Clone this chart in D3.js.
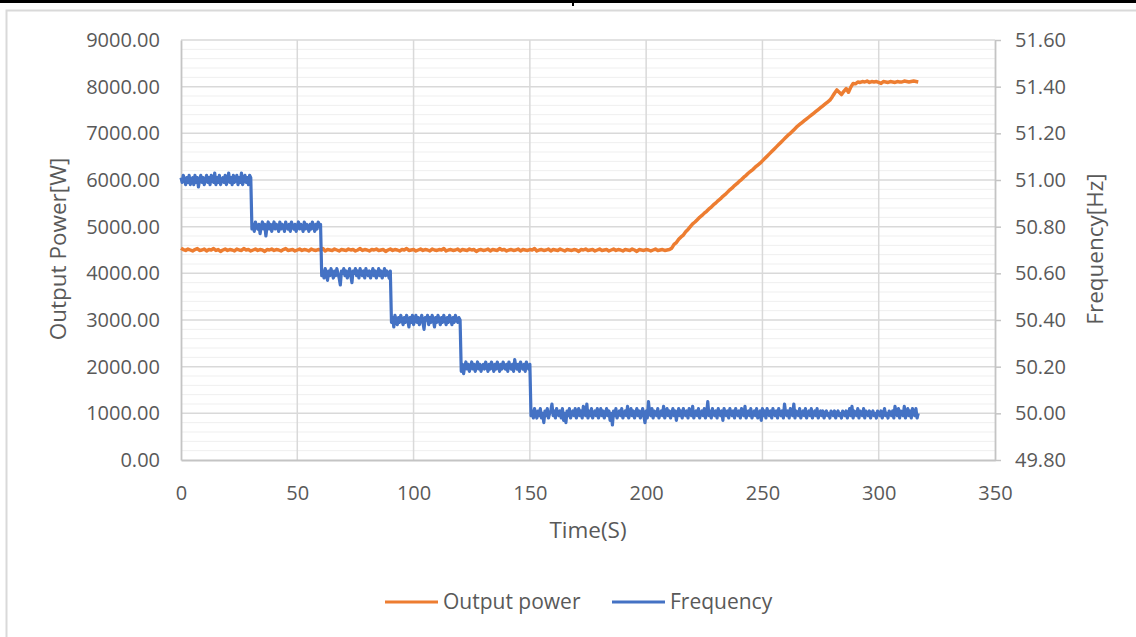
<!DOCTYPE html>
<html>
<head>
<meta charset="utf-8">
<script src="https://cdn.jsdelivr.net/npm/d3@7"></script>
<style>
  body { margin: 0; background: #fff; }
  text { font-family: "Open Sans", sans-serif; fill: #595959; }
</style>
</head>
<body>
<div id="viz"></div>
<script>
const colorPower = '#ED7D31';
const colorFreq = '#4472C4';

// sample spacing in seconds, both series start at t = 0
const powerTimeStep = 1;
const freqTimeStep = 0.5;

// Output power [W], one sample per second
const powerValues = [
  4540, 4510, 4490, 4520, 4500, 4480, 4510, 4530, 4490, 4500,
  4520, 4480, 4510, 4500, 4530, 4490, 4510, 4470, 4500, 4520,
  4490, 4510, 4500, 4480, 4520, 4500, 4490, 4530, 4500, 4510,
  4480, 4500, 4520, 4490, 4510, 4500, 4470, 4510, 4500, 4520,
  4490, 4510, 4500, 4480, 4510, 4530, 4490, 4500, 4510, 4480,
  4500, 4520, 4490, 4510, 4500, 4480, 4520, 4500, 4490, 4510,
  4500, 4530, 4480, 4510, 4500, 4490, 4520, 4500, 4480, 4510,
  4500, 4490, 4520, 4500, 4510, 4480, 4500, 4530, 4490, 4510,
  4500, 4480, 4510, 4500, 4520, 4490, 4500, 4510, 4470, 4500,
  4520, 4490, 4510, 4500, 4480, 4510, 4500, 4530, 4490, 4500,
  4510, 4480, 4500, 4520, 4490, 4510, 4500, 4480, 4520, 4500,
  4490, 4510, 4500, 4530, 4480, 4500, 4510, 4490, 4500, 4520,
  4480, 4510, 4500, 4490, 4520, 4500, 4510, 4470, 4500, 4510,
  4490, 4500, 4520, 4480, 4510, 4500, 4490, 4530, 4500, 4510,
  4480, 4500, 4510, 4490, 4500, 4520, 4480, 4510, 4500, 4490,
  4510, 4500, 4530, 4480, 4500, 4510, 4490, 4500, 4520, 4480,
  4510, 4500, 4490, 4520, 4500, 4480, 4510, 4500, 4490, 4510,
  4500, 4470, 4510, 4500, 4520, 4490, 4500, 4510, 4480, 4500,
  4520, 4490, 4500, 4510, 4480, 4500, 4520, 4490, 4510, 4500,
  4480, 4510, 4500, 4490, 4520, 4500, 4470, 4510, 4500, 4490,
  4510, 4500, 4480, 4500, 4520, 4490, 4500, 4510, 4490, 4500,
  4510, 4540, 4620, 4660, 4730, 4780, 4820, 4890, 4940, 5000,
  5060, 5100, 5150, 5200, 5240, 5290, 5330, 5380, 5420, 5470,
  5510, 5560, 5600, 5650, 5690, 5740, 5790, 5830, 5880, 5920,
  5970, 6010, 6060, 6100, 6150, 6190, 6230, 6280, 6320, 6360,
  6410, 6460, 6510, 6560, 6610, 6660, 6710, 6760, 6810, 6860,
  6910, 6960, 7000, 7050, 7100, 7150, 7190, 7230, 7270, 7310,
  7350, 7390, 7430, 7470, 7510, 7550, 7590, 7630, 7670, 7710,
  7780, 7860, 7930, 7880, 7830, 7900, 7960, 7880, 7990, 8070,
  8060, 8100, 8090, 8110, 8100, 8120, 8090, 8110, 8100, 8110,
  8090, 8070, 8110, 8100, 8090, 8110, 8100, 8090, 8110, 8100,
  8100, 8120, 8110, 8100, 8110, 8120, 8110, 8100
]

// Frequency [Hz], two samples per second
const frequencyValues = [
  // 0 - 30 s
  51.01, 50.99, 51.02, 51.00, 50.98, 51.01, 50.99, 51.02, 50.98, 51.00,
  51.01, 50.98, 51.02, 50.99, 51.01, 50.97, 51.00, 51.02, 50.99, 51.01,
  50.98, 51.00, 51.02, 50.99, 51.01, 50.98, 51.02, 51.00, 50.99, 51.03,
  50.98, 51.01, 50.99, 51.02, 50.98, 51.00, 51.01, 50.99, 51.02, 50.98,
  51.00, 51.03, 50.99, 51.01, 50.98, 51.02, 50.99, 51.00, 51.02, 50.98,
  51.01, 50.99, 51.03, 50.98, 51.00, 51.02, 50.99, 51.01, 50.98, 51.02,
  51.01,
  // 30.5 - 60 s
  50.79, 50.81, 50.78, 50.82, 50.80, 50.79, 50.81, 50.77, 50.80, 50.82,
  50.79, 50.81, 50.76, 50.80, 50.82, 50.79, 50.81, 50.78, 50.80, 50.82,
  50.79, 50.81, 50.80, 50.78, 50.82, 50.79, 50.81, 50.80, 50.78, 50.82,
  50.80, 50.79, 50.81, 50.78, 50.82, 50.80, 50.79, 50.81, 50.78, 50.80,
  50.82, 50.79, 50.81, 50.80, 50.78, 50.82, 50.79, 50.81, 50.80, 50.78,
  50.81, 50.79, 50.82, 50.80, 50.78, 50.81, 50.79, 50.82, 50.80, 50.81,
  // 60.5 - 90 s
  50.59, 50.61, 50.58, 50.62, 50.60, 50.57, 50.61, 50.59, 50.62, 50.60,
  50.58, 50.61, 50.59, 50.62, 50.60, 50.58, 50.55, 50.61, 50.60, 50.62,
  50.59, 50.61, 50.58, 50.60, 50.62, 50.59, 50.56, 50.61, 50.60, 50.62,
  50.59, 50.61, 50.58, 50.62, 50.60, 50.59, 50.61, 50.58, 50.62, 50.60,
  50.59, 50.61, 50.58, 50.60, 50.62, 50.59, 50.61, 50.58, 50.60, 50.62,
  50.59, 50.61, 50.58, 50.60, 50.62, 50.59, 50.61, 50.60, 50.58, 50.61,
  // 90.5 - 120 s
  50.39, 50.41, 50.37, 50.42, 50.40, 50.38, 50.41, 50.39, 50.42, 50.40,
  50.38, 50.41, 50.39, 50.42, 50.40, 50.37, 50.41, 50.39, 50.42, 50.38,
  50.40, 50.42, 50.39, 50.41, 50.38, 50.40, 50.42, 50.39, 50.36, 50.41,
  50.40, 50.42, 50.38, 50.41, 50.39, 50.42, 50.40, 50.37, 50.41, 50.39,
  50.42, 50.40, 50.38, 50.41, 50.39, 50.42, 50.40, 50.38, 50.41, 50.39,
  50.42, 50.40, 50.38, 50.41, 50.39, 50.42, 50.40, 50.39, 50.41, 50.40,
  // 120.5 - 150 s
  50.18, 50.21, 50.17, 50.20, 50.22, 50.19, 50.21, 50.18, 50.20, 50.22,
  50.19, 50.21, 50.18, 50.20, 50.22, 50.19, 50.21, 50.18, 50.20, 50.21,
  50.19, 50.22, 50.20, 50.18, 50.21, 50.19, 50.22, 50.20, 50.18, 50.21,
  50.19, 50.22, 50.20, 50.18, 50.21, 50.19, 50.22, 50.20, 50.19, 50.21,
  50.18, 50.22, 50.20, 50.19, 50.21, 50.18, 50.23, 50.20, 50.19, 50.21,
  50.18, 50.22, 50.20, 50.19, 50.21, 50.18, 50.22, 50.20, 50.19, 50.21,
  // 150.5 - 317 s
  49.99, 50.01, 49.98, 50.02, 50.00, 49.98, 50.01, 49.99, 50.02, 49.98,
  50.00, 49.96, 50.01, 49.99, 50.02, 49.98, 50.00, 50.01, 50.04, 49.99,
  50.01, 49.98, 50.02, 50.00, 49.99, 50.01, 49.98, 50.02, 49.97, 50.00,
  49.96, 50.01, 49.99, 50.02, 49.98, 50.00, 50.01, 49.99, 50.02, 49.98,
  50.00, 50.02, 49.99, 50.01, 49.98, 50.03, 50.00, 49.99, 50.04, 49.98,
  50.01, 49.99, 50.02, 49.98, 50.00, 50.01, 49.99, 50.02, 49.98, 50.00,
  50.02, 49.99, 50.01, 49.98, 50.00, 50.02, 49.99, 50.01, 49.97, 50.00,
  49.95, 50.01, 49.99, 50.02, 49.98, 50.00, 50.01, 49.99, 50.02, 49.98,
  50.00, 50.01, 49.99, 50.03, 49.98, 50.00, 50.02, 49.99, 50.01, 49.98,
  50.00, 50.02, 49.99, 50.01, 49.98, 50.00, 50.02, 49.99, 49.96, 50.01,
  49.98, 50.05, 50.00, 49.99, 50.02, 49.98, 50.01, 50.00, 49.99, 50.02,
  49.98, 50.00, 50.01, 49.99, 50.03, 49.98, 50.00, 50.02, 49.99, 50.01,
  49.98, 50.00, 50.02, 49.99, 50.01, 49.97, 50.00, 50.02, 49.99, 50.01,
  49.98, 50.02, 50.00, 49.99, 50.01, 49.98, 50.02, 50.00, 49.99, 50.03,
  49.98, 50.00, 50.01, 49.99, 50.02, 49.98, 50.00, 50.01, 49.99, 50.02,
  49.98, 50.00, 50.05, 49.99, 50.01, 49.98, 50.02, 50.00, 49.99, 50.01,
  49.98, 50.02, 50.00, 49.99, 50.01, 49.97, 50.02, 50.00, 49.99, 50.01,
  49.98, 50.02, 50.00, 49.99, 50.01, 49.98, 50.02, 50.00, 49.99, 50.01,
  49.98, 50.02, 50.00, 49.99, 50.03, 49.98, 50.00, 50.01, 49.99, 50.02,
  49.98, 50.00, 50.01, 49.99, 50.02, 49.98, 50.00, 50.01, 49.97, 50.02,
  49.99, 50.01, 49.98, 50.02, 50.00, 49.99, 50.01, 49.98, 50.02, 50.00,
  49.99, 50.01, 49.98, 50.02, 50.00, 49.99, 50.01, 49.98, 50.04, 50.00,
  49.99, 50.01, 49.98, 50.02, 50.00, 49.99, 50.04, 49.98, 50.01, 50.00,
  49.99, 50.02, 49.98, 50.00, 50.01, 49.99, 50.02, 49.98, 50.00, 50.01,
  49.99, 50.02, 49.98, 50.00, 50.01, 49.99, 50.02, 49.98, 50.00, 50.01,
  49.99, 50.01, 49.98, 50.00, 50.01, 49.99, 50.00, 49.98, 50.01, 50.00,
  49.99, 50.01, 49.98, 50.00, 50.01, 49.99, 50.00, 49.98, 50.01, 50.00,
  49.99, 50.01, 49.98, 50.00, 50.02, 49.99, 50.03, 49.98, 50.01, 50.00,
  49.99, 50.02, 49.98, 50.01, 50.00, 49.99, 50.02, 49.98, 50.01, 50.00,
  49.99, 50.01, 49.98, 50.00, 50.01, 49.99, 50.00, 49.98, 50.01, 50.00,
  49.99, 50.01, 49.98, 50.00, 50.02, 49.99, 50.00, 49.98, 50.01, 50.00,
  49.99, 50.01, 49.98, 50.03, 50.00, 49.99, 50.02, 49.98, 50.01, 50.00,
  49.99, 50.03, 49.98, 50.00, 50.02, 49.99, 50.01, 49.98, 50.02, 50.00,
  49.99, 50.02, 49.98, 50.00
]

const timeTicks = [0, 50, 100, 150, 200, 250, 300, 350]
const powerTicks = [0, 1000, 2000, 3000, 4000, 5000, 6000, 7000, 8000, 9000]
const freqTicks = [49.8, 50.0, 50.2, 50.4, 50.6, 50.8, 51.0, 51.2, 51.4, 51.6]
const seriesNames = ['Output power', 'Frequency']

function createViz(){

  let dimensions = {
    width: 1136,
    height: 637,
    margin: {
      top: 40,
      right: 141,
      bottom: 177,
      left: 181,
    },
  }
  dimensions.boundedWidth = dimensions.width
    - dimensions.margin.left
    - dimensions.margin.right
  dimensions.boundedHeight = dimensions.height
    - dimensions.margin.top
    - dimensions.margin.bottom

  const wrapper = d3.select('#viz')
    .append('svg')
    .attr('width', dimensions.width)
    .attr('height', dimensions.height)

  // document table border + chart frame
  wrapper.append('rect')
    .attr('x', 6.5).attr('y', 10.5)
    .attr('width', 1140).attr('height', 640)
    .attr('fill', 'none')
    .attr('stroke', '#d9d9d9')
    .attr('stroke-width', 2)
  wrapper.append('rect')
    .attr('x', 0).attr('y', 0)
    .attr('width', dimensions.width).attr('height', 3)
    .attr('fill', '#000')
  wrapper.append('rect')
    .attr('x', 572).attr('y', 0)
    .attr('width', 2).attr('height', 6)
    .attr('fill', '#000')

  const chart = wrapper.append('g')
    .attr('transform', `translate(${dimensions.margin.left},${dimensions.margin.top})`)

  // scales
  const xScale = d3.scaleLinear()
    .domain([0, 350])
    .range([0, dimensions.boundedWidth])

  const yPower = d3.scaleLinear()
    .domain([0, 9000])
    .range([dimensions.boundedHeight, 0])

  const yFreq = d3.scaleLinear()
    .domain([49.8, 51.6])
    .range([dimensions.boundedHeight, 0])

  // gridlines
  const minorTicks = yPower.ticks(45).filter(d => d % 1000 != 0)
  chart.append('g')
    .selectAll('line')
    .data(minorTicks)
    .join('line')
    .attr('x1', 0).attr('x2', dimensions.boundedWidth)
    .attr('y1', d => yPower(d)).attr('y2', d => yPower(d))
    .attr('stroke', '#efefef')
    .attr('stroke-width', 1)

  chart.append('g')
    .selectAll('line')
    .data(powerTicks.filter(d => d > 0))
    .join('line')
    .attr('x1', 0).attr('x2', dimensions.boundedWidth)
    .attr('y1', d => yPower(d)).attr('y2', d => yPower(d))
    .attr('stroke', '#d9d9d9')
    .attr('stroke-width', 1.5)

  chart.append('g')
    .selectAll('line')
    .data(timeTicks.filter(d => d > 0 && d < 350))
    .join('line')
    .attr('x1', d => xScale(d)).attr('x2', d => xScale(d))
    .attr('y1', 0).attr('y2', dimensions.boundedHeight)
    .attr('stroke', '#d9d9d9')
    .attr('stroke-width', 1.5)

  // axes
  const yAxisLeft = chart.append('g')
    .call(d3.axisLeft(yPower)
      .tickValues(powerTicks)
      .tickFormat(d3.format('.2f'))
      .tickSize(0)
      .tickPadding(21))

  const yAxisRight = chart.append('g')
    .attr('transform', `translate(${dimensions.boundedWidth},0)`)
    .call(d3.axisRight(yFreq)
      .tickValues(freqTicks)
      .tickFormat(d3.format('.2f'))
      .tickSizeInner(6)
      .tickSizeOuter(0)
      .tickPadding(14))

  const xAxis = chart.append('g')
    .attr('transform', `translate(0,${dimensions.boundedHeight})`)
    .call(d3.axisBottom(xScale)
      .tickValues(timeTicks)
      .tickSize(0)
      .tickPadding(26))

  ;[yAxisLeft, yAxisRight, xAxis].forEach(axis => {
    axis.select('.domain')
      .attr('stroke', '#c4c4c4')
      .attr('stroke-width', 1.8)
    axis.selectAll('.tick line')
      .attr('stroke', '#c4c4c4')
      .attr('stroke-width', 1.5)
    axis.selectAll('text')
      .attr('fill', '#595959')
      .style('font-family', '"Open Sans", sans-serif')
      .style('font-size', '20px')
  })

  // axis titles
  chart.append('text')
    .attr('transform', `translate(${58 - dimensions.margin.left},${249 - dimensions.margin.top}) rotate(-90)`)
    .attr('text-anchor', 'middle')
    .attr('dy', '0.35em')
    .style('font-size', '22.5px')
    .text('Output Power[W]')

  chart.append('text')
    .attr('transform', `translate(${1095 - dimensions.margin.left},${249 - dimensions.margin.top}) rotate(-90)`)
    .attr('text-anchor', 'middle')
    .attr('dy', '0.35em')
    .style('font-size', '22.5px')
    .text('Frequency[Hz]')

  chart.append('text')
    .attr('x', 588 - dimensions.margin.left)
    .attr('y', 530 - dimensions.margin.top)
    .attr('text-anchor', 'middle')
    .attr('dy', '0.35em')
    .style('font-size', '22.5px')
    .text('Time(S)')

  // lines
  const powerLine = d3.line()
    .x((d, i) => xScale(i * powerTimeStep))
    .y(d => yPower(d))

  const freqLine = d3.line()
    .x((d, i) => xScale(i * freqTimeStep))
    .y(d => yFreq(d))

  chart.append('path')
    .attr('d', powerLine(powerValues))
    .attr('fill', 'none')
    .attr('stroke', colorPower)
    .attr('stroke-width', 3.5)
    .attr('stroke-linejoin', 'round')

  chart.append('path')
    .attr('d', freqLine(frequencyValues))
    .attr('fill', 'none')
    .attr('stroke', colorFreq)
    .attr('stroke-width', 3.2)
    .attr('stroke-linejoin', 'round')

  // legend
  const legendItems = [
    {name: seriesNames[0], color: colorPower, x: 385},
    {name: seriesNames[1], color: colorFreq, x: 612},
  ]
  const legend = wrapper.append('g')
    .attr('transform', 'translate(0,602)')
  legendItems.forEach(item => {
    legend.append('line')
      .attr('x1', item.x).attr('x2', item.x + 53)
      .attr('y1', 0).attr('y2', 0)
      .attr('stroke', item.color)
      .attr('stroke-width', 3)
    legend.append('text')
      .attr('x', item.x + 58)
      .attr('dy', '0.35em')
      .style('font-size', '21px')
      .text(item.name)
  })
}

createViz();
</script>
</body>
</html>
